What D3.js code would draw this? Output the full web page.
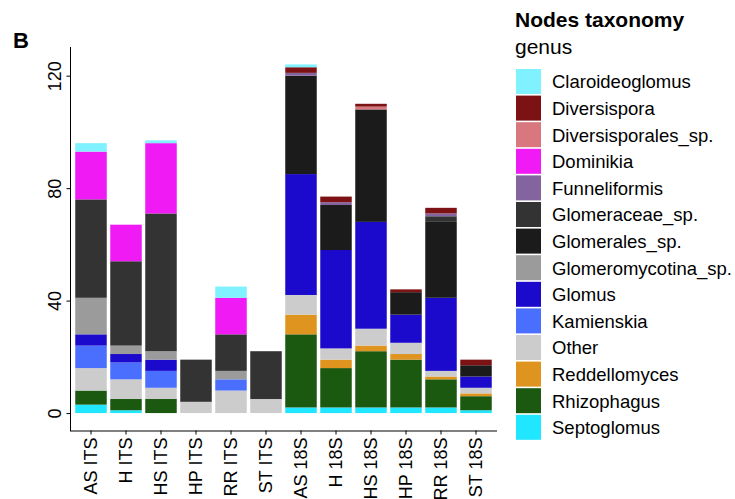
<!DOCTYPE html>
<html>
<head>
<meta charset="utf-8">
<script src="https://cdn.jsdelivr.net/npm/d3@7"></script>
<style>
    body { margin: 0; background: #fff; }
    text { font-family: "Liberation Sans", Arial, sans-serif; }
</style>
</head>
<body>
<div id="chart"></div>
<script>
// samples on the x axis
var samples = ["AS ITS", "H ITS", "HS ITS", "HP ITS", "RR ITS", "ST ITS",
    "AS 18S", "H 18S", "HS 18S", "HP 18S", "RR 18S", "ST 18S"];

// legend order (top to bottom)
var genera = ["Claroideoglomus", "Diversispora", "Diversisporales_sp.", "Dominikia", "Funneliformis",
    "Glomeraceae_sp.", "Glomerales_sp.", "Glomeromycotina_sp.", "Glomus", "Kamienskia",
    "Other", "Reddellomyces", "Rhizophagus", "Septoglomus"];

var generaColors = ["#80f2ff", "#7d1215", "#d9777e", "#f01af5", "#83649e",
    "#333333", "#1b1b1b", "#9b9b9b", "#1b0acb", "#4a6ffe",
    "#cccccc", "#de941e", "#1b5910", "#21e6ff"];

// node counts per genus, one value per sample
var claroideoglomus = [3, 0, 1, 0, 4, 0, 1, 0, 0, 0, 0, 0];
var diversispora = [0, 0, 0, 0, 0, 0, 2, 2, 1, 1, 2, 2];
var diversisporalesSp = [0, 0, 0, 0, 0, 0, 0, 0, 1, 0, 0, 0];
var dominikia = [17, 13, 25, 0, 13, 0, 0, 0, 0, 0, 0, 0];
var funneliformis = [0, 0, 0, 0, 0, 0, 1, 1, 0, 0, 1, 0];
var glomeraceaeSp = [35, 30, 49, 15, 13, 17, 0, 0, 0, 0, 2, 0];
var glomeralesSp = [0, 0, 0, 0, 0, 0, 35, 16, 40, 8, 27, 4];
var glomeromycotinaSp = [13, 3, 3, 0, 3, 0, 0, 0, 0, 0, 0, 0];
var glomus = [4, 3, 4, 0, 0, 0, 43, 35, 38, 10, 26, 4];
var kamienskia = [8, 6, 6, 0, 4, 0, 0, 0, 0, 0, 0, 0];
var other = [8, 7, 4, 4, 8, 5, 7, 4, 6, 4, 2, 2];
var reddellomyces = [0, 0, 0, 0, 0, 0, 7, 3, 2, 2, 1, 1];
var rhizophagus = [5, 4, 5, 0, 0, 0, 26, 14, 20, 17, 10, 5];
var septoglomus = [3, 1, 0, 0, 0, 0, 2, 2, 2, 2, 2, 1];

var yTicks = [0, 40, 80, 120];

var seriesValues = [claroideoglomus, diversispora, diversisporalesSp, dominikia, funneliformis,
    glomeraceaeSp, glomeralesSp, glomeromycotinaSp, glomus, kamienskia,
    other, reddellomyces, rhizophagus, septoglomus];

// table for d3.stack: one row per sample
var table = samples.map(function(s, i) {
    var row = {sample: s};
    genera.forEach(function(g, j) { row[g] = seriesValues[j][i]; });
    return row;
});

var width = 735, height = 499;
// panel edges (window.top is reserved, so prefixed names)
var panelLeft = 70, panelRight = 497, panelTop = 47, panelBottom = 430.5;

var svg = d3.select("#chart")
    .append("svg")
    .attr("width", width)
    .attr("height", height);

var color = d3.scaleOrdinal().domain(genera).range(generaColors);

var x = d3.scaleBand()
    .domain(samples)
    .range([panelLeft, panelRight])
    .paddingInner(0.1)
    .paddingOuter(0.15);

// ggplot style expansion of 5% around [0, max]
var maxTotal = d3.max(table, function(d) { return d3.sum(genera, function(g) { return d[g]; }); });
var pad = maxTotal * 0.05;
var y = d3.scaleLinear()
    .domain([-pad, maxTotal + pad])
    .range([panelBottom, panelTop]);

// first genus in the legend sits on top of the bar
var stack = d3.stack().keys(genera.slice().reverse());
var layers = stack(table);

svg.append("g")
    .selectAll("g")
    .data(layers)
    .enter()
    .append("g")
    .attr("fill", function(d) { return color(d.key); })
    .selectAll("rect")
    .data(function(d) { return d; })
    .enter()
    .append("rect")
    .attr("x", function(d) { return x(d.data.sample); })
    .attr("width", x.bandwidth())
    .attr("y", function(d) { return y(d[1]); })
    .attr("height", function(d) { return y(d[0]) - y(d[1]); });

// y axis
var yAxis = svg.append("g")
    .attr("transform", "translate(" + panelLeft + ",0)")
    .call(d3.axisLeft(y).tickValues(yTicks).tickSize(4).tickPadding(0).tickFormat(d3.format("d")));
yAxis.select(".domain").attr("d", "M0.5," + panelTop + "V" + (panelBottom + 0.5)).attr("stroke", "#000");
yAxis.selectAll(".tick line").attr("stroke", "#000").attr("transform", "translate(0.5,0)");
yAxis.selectAll(".tick text")
    .attr("x", null)
    .attr("transform", "translate(-15,0) rotate(-90)")
    .attr("text-anchor", "middle")
    .attr("dy", "0.35em")
    .attr("font-size", "18px")
    .attr("fill", "#000");

// x axis
var xAxis = svg.append("g")
    .attr("transform", "translate(0," + panelBottom + ")")
    .call(d3.axisBottom(x).tickSize(4).tickPadding(0));
xAxis.select(".domain").attr("d", "M" + panelLeft + ",0.5H" + panelRight).attr("stroke", "#000");
xAxis.selectAll(".tick line").attr("stroke", "#000");
xAxis.selectAll(".tick text")
    .attr("y", null)
    .attr("transform", "translate(0,7) rotate(-90)")
    .attr("text-anchor", "end")
    .attr("dy", "0.35em")
    .attr("font-size", "18px")
    .attr("fill", "#000");

// panel tag
svg.append("text")
    .attr("x", 13)
    .attr("y", 48)
    .attr("font-size", "22px")
    .attr("font-weight", "bold")
    .text("B");

// legend
var legend = svg.append("g").attr("transform", "translate(515,0)");
legend.append("text")
    .attr("x", 0)
    .attr("y", 27)
    .attr("font-size", "21px")
    .attr("font-weight", "bold")
    .text("Nodes taxonomy");
legend.append("text")
    .attr("x", 0)
    .attr("y", 54)
    .attr("font-size", "21px")
    .text("genus");

var keyStep = 26.6;
var items = legend.selectAll(".item")
    .data(genera)
    .enter()
    .append("g")
    .attr("class", "item")
    .attr("transform", function(d, i) { return "translate(0," + (69 + i * keyStep) + ")"; });
items.append("rect")
    .attr("x", 1)
    .attr("width", 25)
    .attr("height", 25)
    .attr("fill", function(d) { return color(d); });
items.append("text")
    .attr("x", 37)
    .attr("y", 12.5)
    .attr("dy", "0.37em")
    .attr("font-size", "18.5px")
    .text(function(d) { return d; });
</script>
</body>
</html>
